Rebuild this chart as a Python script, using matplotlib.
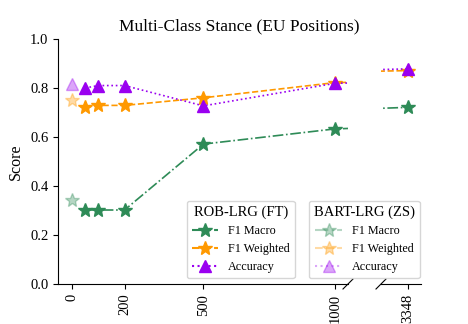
import numpy as np
import matplotlib
matplotlib.use("Agg")
from matplotlib import pyplot as plt
from matplotlib.lines import Line2D

plt.rcParams['font.family'] = 'serif'
plt.rcParams['font.serif'] = ['Liberation Serif', 'DejaVu Serif']

# fine-tuned ROB-LRG
n_train = [50, 100, 200, 500, 1000, 3348]
rob_macro = [0.302, 0.302, 0.302, 0.571, 0.633, 0.721]
rob_weighted = [0.721, 0.729, 0.729, 0.760, 0.822, 0.871]
rob_acc = [0.800, 0.810, 0.810, 0.727, 0.819, 0.878]

# zero-shot BART-LRG
zs_x = [0]
bart_macro = [0.343]
bart_weighted = [0.751]
bart_acc = [0.816]

xticks_left = [0, 200, 500, 1000]
xticks_right = [3348]

c_macro = '#2e8b57'
c_weighted = '#ff9900'
c_acc = '#9a00f0'

fig = plt.figure(figsize=(4.68, 3.24), dpi=100)
ax1 = fig.add_axes([58/468, 1-284/324, 290/468, 245/324])
ax2 = fig.add_axes([381/468, 1-284/324, 40/468, 245/324])

series = [
    (rob_macro, bart_macro, c_macro, '-.', '*', 'F1 Macro'),
    (rob_weighted, bart_weighted, c_weighted, '--', '*', 'F1 Weighted'),
    (rob_acc, bart_acc, c_acc, ':', '^', 'Accuracy'),
]

rob_handles = []
bart_handles = []
for ax in (ax1, ax2):
    for rob, bart, col, ls, mk, lab in series:
        ms = 10 if mk == '*' else 9
        ax.plot(n_train, rob, color=col, linestyle=ls, marker=mk, markersize=ms, lw=1.2)
        ax.plot(zs_x, bart, color=col, linestyle=ls, marker=mk, markersize=ms, lw=1.2, alpha=0.35)

for rob, bart, col, ls, mk, lab in series:
    ms = 10 if mk == '*' else 9
    rob_handles.append(Line2D([], [], color=col, linestyle=ls, marker=mk, markersize=ms, lw=1.5, label=lab))
    bart_handles.append(Line2D([], [], color=col, linestyle=ls, marker=mk, markersize=ms, lw=1.5, alpha=0.35, label=lab))

ax1.set_xlim(-53, 1050)
ax2.set_xlim(3245, 3400)
for ax in (ax1, ax2):
    ax.set_ylim(0, 1)
    ax.spines['top'].set_visible(False)
    ax.spines['right'].set_visible(False)
ax2.spines['left'].set_visible(False)
ax2.tick_params(axis='y', left=False, labelleft=False)

ax1.set_xticks(xticks_left)
ax1.set_xticklabels([str(v) for v in xticks_left], rotation=90, fontsize=10.5)
ax2.set_xticks(xticks_right)
ax2.set_xticklabels([str(v) for v in xticks_right], rotation=90, fontsize=10.5)
ax1.set_yticks(np.arange(0, 1.01, 0.2))
ax1.set_yticklabels(['%.1f' % v for v in np.arange(0, 1.01, 0.2)], fontsize=10.5)
ax1.set_ylabel('Score', fontsize=11.5)

fig.suptitle('Multi-Class Stance (EU Positions)', x=0.512, y=0.942, fontsize=12.5)

# break marks
dx, dy = 5/290, 5/245
ax1.plot([1 - dx, 1 + dx], [-dy, dy], transform=ax1.transAxes, color='k', lw=0.8, clip_on=False)
dx2 = 5/40
ax2.plot([-dx2, dx2], [-dy, dy], transform=ax2.transAxes, color='k', lw=0.8, clip_on=False)

leg1 = fig.legend(handles=rob_handles, title='ROB-LRG (FT)', loc='lower left',
                  bbox_to_anchor=(187/468, 1-278/324), fontsize=8.7, title_fontsize=10.5,
                  borderaxespad=0, handlelength=2.2)
leg2 = fig.legend(handles=bart_handles, title='BART-LRG (ZS)', loc='lower left',
                  bbox_to_anchor=(309/468, 1-278/324), fontsize=8.7, title_fontsize=10.5,
                  borderaxespad=0, handlelength=2.2)

fig.savefig('out.png', dpi=100)
